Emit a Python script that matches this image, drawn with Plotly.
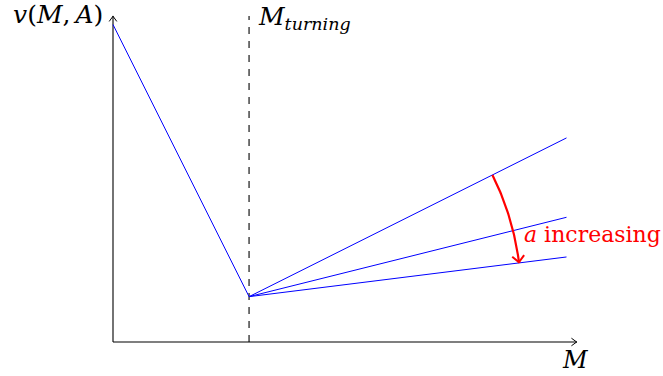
import numpy as np
import plotly.graph_objects as go

# ---- model values ----------------------------------------------------------
M_turn = 3.0          # turning point on the M axis
v_start = 7.0         # v at M = 0
v_min = 1.0           # v at the turning point
M_end = 10.0          # right end of the post-turning branches
slopes = [0.5, 0.25, 0.125]   # branch slopes (a increasing -> smaller slope)
arc_radius = 6.0      # radius of the "a increasing" arc around the turning point
x_axis_end = 10.23
y_axis_end = 7.19

# ---- canvas ----------------------------------------------------------------
W, H = 663, 376
k = 45.35             # pixels per unit (same on both axes)
ox, oy = 113, 342     # pixel position of the origin
x_range = [-ox / k, (W - ox) / k]
y_range = [-(H - oy) / k, oy / k]

BLUE = "rgb(0,0,255)"
RED = "rgb(255,0,0)"
BLACK = "black"
FONT = "DejaVu Serif"


def arrow_head(tip, direction, back_px, half_px, n=8):
    """Open 'to'-style arrow head (two curved barbs) in data coordinates."""
    d = np.array(direction, float)
    d /= np.hypot(*d)
    dp = np.array([d[0], -d[1]])
    pp = np.array([-dp[1], dp[0]])
    tip_p = np.array([ox + tip[0] * k, oy - tip[1] * k])
    xs, ys = [], []
    for s in (1, -1):
        p0 = tip_p - dp * back_px + pp * half_px * s
        c = tip_p - dp * back_px * 0.35 + pp * half_px * 0.15 * s
        t = np.linspace(0, 1, n)
        pts = ((1 - t) ** 2)[:, None] * p0 + (2 * (1 - t) * t)[:, None] * c + (t ** 2)[:, None] * tip_p
        xs += list((pts[:, 0] - ox) / k) + [None]
        ys += list((oy - pts[:, 1]) / k) + [None]
    return xs, ys


fig = go.Figure()

# axes with open arrow heads
fig.add_trace(go.Scatter(x=[0, x_axis_end], y=[0, 0], mode="lines",
                         line=dict(color=BLACK, width=1.1), hoverinfo="skip"))
fig.add_trace(go.Scatter(x=[0, 0], y=[0, y_axis_end], mode="lines",
                         line=dict(color=BLACK, width=1.1), hoverinfo="skip"))
for tip, dr in (((x_axis_end, 0), (1, 0)), ((0, y_axis_end), (0, 1))):
    ax_, ay_ = arrow_head(tip, dr, 5.5, 3.8)
    fig.add_trace(go.Scatter(x=ax_, y=ay_, mode="lines",
                             line=dict(color=BLACK, width=1), hoverinfo="skip"))

# dashed turning line
fig.add_trace(go.Scatter(x=[M_turn, M_turn], y=[0, y_axis_end], mode="lines",
                         line=dict(color=BLACK, width=1.1, dash="7px,7px"),
                         hoverinfo="skip"))

# decreasing branch
fig.add_trace(go.Scatter(x=[0, M_turn], y=[v_start, v_min], mode="lines",
                         line=dict(color=BLUE, width=1), hoverinfo="skip"))
# increasing branches
for s in slopes:
    fig.add_trace(go.Scatter(x=[M_turn, M_end], y=[v_min, v_min + s * (M_end - M_turn)],
                             mode="lines", line=dict(color=BLUE, width=1),
                             hoverinfo="skip"))

# arc showing the effect of increasing a
th0, th1 = np.arctan(slopes[0]), np.arctan(slopes[-1])
th = np.linspace(th0, th1, 60)
arc_x = M_turn + arc_radius * np.cos(th)
arc_y = v_min + arc_radius * np.sin(th)
fig.add_trace(go.Scatter(x=arc_x, y=arc_y, mode="lines",
                         line=dict(color=RED, width=2.2), hoverinfo="skip"))
hx, hy = arrow_head((arc_x[-1], arc_y[-1]), (np.sin(th1), -np.cos(th1)), 7, 6)
fig.add_trace(go.Scatter(x=hx, y=hy, mode="lines",
                         line=dict(color=RED, width=2), hoverinfo="skip"))


def px(x, y):
    return x / W, 1 - y / H


annotations = []
for text, (x, y), xa, color, size in [
    ("<i>v</i>(<i>M</i>,\u2009<i>A</i>)", (105, 14), "right", BLACK, 25),
    ("<i>M</i><sub><i>turning</i></sub>", (256, 18), "left", BLACK, 25),
    ("<i>M</i>", (575, 360), "center", BLACK, 24),
    ("<i>a</i> increasing", (522, 234), "left", RED, 22),
]:
    X, Y = px(x, y)
    annotations.append(dict(text=text, x=X, y=Y, xref="paper", yref="paper",
                            xanchor=xa, yanchor="middle", showarrow=False,
                            font=dict(family=FONT, size=size, color=color)))

fig.update_layout(
    width=W, height=H, margin=dict(l=0, r=0, t=0, b=0),
    paper_bgcolor="white", plot_bgcolor="white", showlegend=False,
    xaxis=dict(range=x_range, visible=False, fixedrange=True),
    yaxis=dict(range=y_range, visible=False, fixedrange=True),
    annotations=annotations,
)

fig.write_html("out.html", config={"displayModeBar": False})
